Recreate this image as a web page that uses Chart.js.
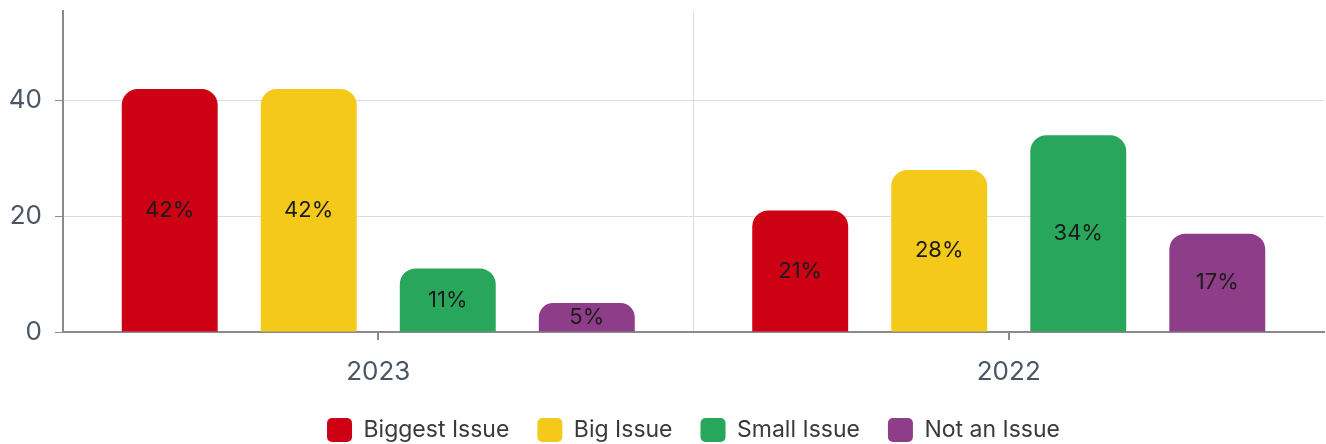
<!DOCTYPE html>
<html>
<head>
<meta charset="utf-8">
<script src="https://cdn.jsdelivr.net/npm/chart.js@4"></script>
<style>
  body { margin: 0; background: #fff; }
</style>
</head>
<body>
<canvas id="myChart" width="1326" height="444"></canvas>
<script>
// datos del grafico
const years = ["2023", "2022"];
const seriesNames = ["Biggest Issue", "Big Issue", "Small Issue", "Not an Issue"];
const biggestIssue = [42, 21];
const bigIssue = [42, 28];
const smallIssue = [11, 34];
const notAnIssue = [5, 17];
const yTicks = [0, 20, 40];

const colores = ["#CE0014", "#F5C919", "#28A65C", "#8E3E88"];
const fuente = "Inter, 'Noto Sans', sans-serif";

const valores = [biggestIssue, bigIssue, smallIssue, notAnIssue];
const datasets = seriesNames.map((nombre, i) => ({
  label: nombre,
  data: valores[i],
  backgroundColor: colores[i],
  borderRadius: 16,
  borderSkipped: "start",
  barPercentage: 0.69,
  categoryPercentage: 0.882,
}));

// etiquetas dentro de las barras
const etiquetas = {
  id: "etiquetas",
  afterDatasetsDraw(chart) {
    const ctx = chart.ctx;
    ctx.save();
    ctx.font = "22px " + fuente;
    ctx.fillStyle = "#1b1b1b";
    ctx.textAlign = "center";
    ctx.textBaseline = "middle";
    chart.data.datasets.forEach((ds, i) => {
      chart.getDatasetMeta(i).data.forEach((bar, j) => {
        ctx.fillText(ds.data[j] + "%", bar.x, (bar.y + bar.base) / 2);
      });
    });
    ctx.restore();
  },
};

// marcas del eje x en el centro de cada categoria
const marcasX = {
  id: "marcasX",
  afterDraw(chart) {
    const x = chart.scales.x;
    const ctx = chart.ctx;
    ctx.save();
    ctx.strokeStyle = "#8a8a8a";
    ctx.lineWidth = 2;
    years.forEach((y, i) => {
      const px = Math.round(x.getPixelForValue(i));
      ctx.beginPath();
      ctx.moveTo(px, x.top);
      ctx.lineTo(px, x.top + 8);
      ctx.stroke();
    });
    ctx.restore();
  },
};

new Chart(document.getElementById("myChart"), {
  type: "bar",
  data: { labels: years, datasets },
  options: {
    responsive: false,
    animation: false,
    devicePixelRatio: 1,
    layout: { padding: { top: 11, right: 2, left: 0, bottom: -8 } },
    plugins: {
      tooltip: { enabled: false },
      legend: {
        position: "bottom",
        fullSize: false,
        labels: {
          font: { family: fuente, size: 23 },
          color: "#3a3a3a",
          boxWidth: 25,
          boxHeight: 24,
          useBorderRadius: true,
          borderRadius: 5,
          padding: 28,
        },
      },
    },
    scales: {
      x: {
        afterFit: (s) => { s.height = 58; },
        grid: {
          offset: true,
          color: (c) => (c.index === 1 ? "#dcdcdc" : "transparent"),
          tickColor: "transparent",
          tickLength: 8,
        },
        border: { color: "#8a8a8a", width: 2 },
        ticks: { font: { family: fuente, size: 26 }, color: "#4a5565", padding: 17 },
      },
      y: {
        min: 0,
        max: 55.5,
        afterFit: (s) => {
          s.width = 63;
          s.paddingTop = 0;
          s.paddingBottom = 0;
        },
        afterBuildTicks: (s) => {
          s.ticks = yTicks.map((v) => ({ value: v }));
        },
        grid: {
          color: (c) => (c.tick && c.tick.value === 0 ? "transparent" : "#dcdcdc"),
          tickColor: "#8a8a8a",
          tickLength: 8,
        },
        border: { color: "#8a8a8a", width: 2 },
        ticks: { font: { family: fuente, size: 26 }, color: "#4a5565", padding: 13, stepSize: 20 },
      },
    },
  },
  plugins: [etiquetas, marcasX],
});
</script>
</body>
</html>
